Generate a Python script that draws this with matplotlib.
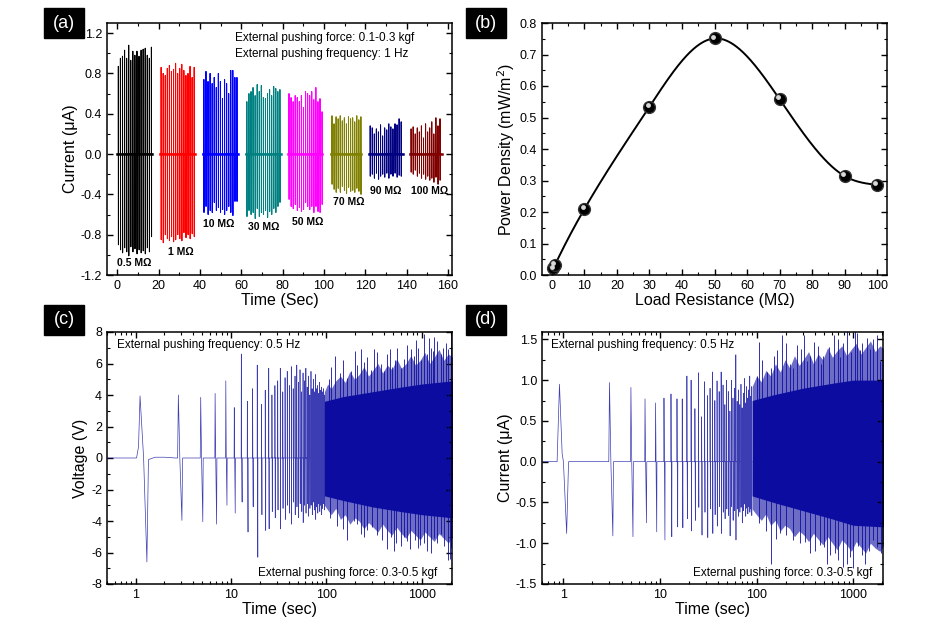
import numpy as np
import matplotlib.pyplot as plt
from matplotlib.patches import Rectangle
from matplotlib.ticker import MultipleLocator, FuncFormatter
from matplotlib import transforms

plt.rcParams['font.family'] = ['Liberation Sans', 'DejaVu Sans']
plt.rcParams['axes.unicode_minus'] = False
plt.rcParams['xtick.direction'] = 'in'
plt.rcParams['ytick.direction'] = 'in'
plt.rcParams['xtick.top'] = True
plt.rcParams['ytick.right'] = True

# ---------------- (a) current for each load, 1 Hz pushing ----------------
a_labels = ['0.5 M\u03a9', '1 M\u03a9', '10 M\u03a9', '30 M\u03a9', '50 M\u03a9', '70 M\u03a9', '90 M\u03a9', '100 M\u03a9']
a_colors = ['#000000', '#ff0000', '#0000ff', '#008080', '#ff00ff', '#808000', '#000080', '#800000']
a_start = [0, 20.7, 41.4, 62.2, 82.6, 103.4, 121.9, 141.7]
a_end = [17, 37.5, 58.4, 79.2, 99.2, 117.9, 138.1, 157]
a_freq = 1.0
a_pos = [
    [0.87, 0.95, 0.97, 1.03, 0.95, 1.08, 0.93, 1.02, 0.98, 1.02, 0.97, 1.03, 1.04, 1.05, 0.98, 0.95, 1.06],
    [0.86, 0.80, 0.78, 0.85, 0.88, 0.82, 0.84, 0.90, 0.80, 0.85, 0.89, 0.83, 0.78, 0.80, 0.87, 0.76, 0.86],
    [0.74, 0.82, 0.72, 0.80, 0.70, 0.76, 0.66, 0.80, 0.72, 0.55, 0.74, 0.70, 0.60, 0.83, 0.83, 0.76, 0.76],
    [0.52, 0.60, 0.62, 0.66, 0.58, 0.69, 0.62, 0.68, 0.56, 0.55, 0.60, 0.64, 0.58, 0.67, 0.65, 0.62, 0.64],
    [0.60, 0.56, 0.52, 0.58, 0.56, 0.52, 0.58, 0.46, 0.62, 0.60, 0.58, 0.62, 0.54, 0.66, 0.52, 0.55, 0.42],
    [0.38, 0.30, 0.37, 0.35, 0.38, 0.33, 0.36, 0.30, 0.37, 0.35, 0.36, 0.32, 0.38, 0.34, 0.37],
    [0.28, 0.26, 0.20, 0.25, 0.22, 0.29, 0.18, 0.26, 0.24, 0.30, 0.27, 0.25, 0.30, 0.29, 0.35, 0.32],
    [0.25, 0.27, 0.20, 0.26, 0.22, 0.28, 0.16, 0.30, 0.22, 0.26, 0.32, 0.20, 0.36, 0.28, 0.35],
]
a_neg = [
    [-0.90, -0.95, -0.98, -0.93, -0.97, -1.01, -0.92, -0.97, -0.94, -0.99, -0.95, -0.98, -0.96, -0.99, -0.93, -0.97, -0.82],
    [-0.85, -0.88, -0.80, -0.84, -0.86, -0.82, -0.87, -0.85, -0.80, -0.84, -0.86, -0.78, -0.83, -0.80, -0.84, -0.79, -0.82],
    [-0.58, -0.52, -0.60, -0.56, -0.58, -0.48, -0.56, -0.53, -0.58, -0.55, -0.60, -0.56, -0.52, -0.58, -0.61, -0.47, -0.47],
    [-0.62, -0.56, -0.60, -0.58, -0.64, -0.54, -0.62, -0.58, -0.60, -0.56, -0.63, -0.57, -0.60, -0.54, -0.58, -0.52, -0.48],
    [-0.45, -0.52, -0.54, -0.50, -0.56, -0.53, -0.57, -0.55, -0.48, -0.52, -0.55, -0.52, -0.58, -0.52, -0.57, -0.58, -0.50],
    [-0.30, -0.35, -0.38, -0.34, -0.38, -0.32, -0.36, -0.39, -0.33, -0.37, -0.36, -0.38, -0.34, -0.37, -0.40],
    [-0.22, -0.20, -0.24, -0.19, -0.25, -0.22, -0.20, -0.23, -0.19, -0.24, -0.20, -0.22, -0.19, -0.23, -0.21, -0.22],
    [-0.18, -0.20, -0.16, -0.22, -0.19, -0.24, -0.20, -0.25, -0.22, -0.26, -0.24, -0.28, -0.23, -0.30, -0.26],
]
a_label_x = [8, 30.5, 49, 71, 92, 112, 130, 151]
a_label_y = [-1.08, -0.97, -0.69, -0.72, -0.67, -0.48, -0.37, -0.37]

# ---------------- (b) power density vs load ----------------
b_load = [0.5, 1, 10, 30, 50, 70, 90, 100]
b_power = [0.021, 0.032, 0.209, 0.534, 0.751, 0.558, 0.314, 0.286]

# ---------------- (c) voltage, 0.5 Hz pushing ----------------
c_first_t = [0.5, 1.02, 1.07, 1.11, 1.21, 1.31, 1.36, 1.6, 2.0, 2.6]
c_first_v = [0, 0, 0.7, 3.94, 0, -6.6, -0.1, 0.05, 0.05, 0]
c_t0, c_period = 0.8, 2.0
c_pos = [4.0, 3.85, 4.1, 4.9, 3.2, 6.6, 3.6, 4.4, 5.9, 3.4, 4.3, 5.7, 4.0, 4.6, 4.9,
         5.7, 4.2, 5.1, 5.5, 4.6, 5.8, 4.4, 5.2, 5.9, 4.8, 5.6, 4.2, 5.4, 4.9, 5.7,
         4.5, 5.2, 4.0, 5.5, 4.4, 5.0, 4.2, 5.3, 4.4, 4.6, 4.1, 4.8, 4.3, 4.5, 4.2, 4.4, 4.0]
c_neg = [-3.96, -4.05, -4.2, -3.0, -3.5, -2.8, -4.7, -3.1, -6.3, -3.6, -4.6, -4.5, -3.4, -3.8, -3.3,
         -4.5, -3.2, -3.9, -3.0, -3.5, -4.2, -2.8, -3.6, -3.1, -3.8, -2.9, -3.4, -4.1, -3.0, -3.5,
         -2.9, -3.7, -3.2, -3.0, -3.6, -2.8, -3.3, -3.9, -3.1, -3.5, -2.9, -3.4, -3.0, -3.6, -3.2, -2.9, -3.3]
c_core_t = [95, 150, 300, 600, 1000, 2100]
c_core_hi = [3.6, 3.9, 4.2, 4.5, 4.7, 4.9]
c_core_lo = [-2.4, -2.7, -3.1, -3.4, -3.6, -3.8]
c_band_t = [95, 103, 112, 125, 140, 157, 176, 197, 220, 247, 276, 309, 346, 388, 434, 486, 545, 610,
            683, 765, 857, 960, 1075, 1204, 1349, 1511, 1692, 1895, 2100]
c_band_hi = [4.2, 4.7, 4.4, 4.9, 5.2, 4.8, 5.5, 5.0, 5.3, 5.8, 5.2, 5.6, 6.0, 5.4, 5.9, 5.6, 6.3, 5.7,
             6.0, 6.5, 5.9, 6.2, 6.7, 6.0, 6.4, 6.9, 6.2, 6.6, 6.4]
c_band_lo = [-3.0, -3.3, -3.6, -3.2, -3.9, -3.6, -4.2, -3.8, -4.0, -4.5, -4.1, -4.4, -4.7, -4.2, -4.6,
             -4.9, -4.4, -4.8, -5.1, -4.6, -4.9, -5.2, -4.7, -5.0, -5.3, -4.8, -5.1, -5.4, -5.0]
c_tip_up_t = [105, 112, 124, 140, 150, 165, 180, 200, 210, 228, 245, 268, 290, 315, 340, 370, 400, 435,
              460, 490, 520, 555, 600, 652, 700, 766, 820, 864, 920, 976, 1058, 1120, 1180, 1244, 1300,
              1349, 1450, 1585, 1650, 1790, 1900, 2020]
c_tip_up_v = [5.0, 5.8, 6.5, 5.4, 6.2, 5.1, 5.5, 6.8, 5.9, 6.9, 6.1, 6.4, 5.6, 6.95, 6.7, 6.0, 5.5, 6.6,
              6.9, 5.8, 6.2, 7.0, 5.7, 6.3, 7.2, 6.9, 6.5, 7.5, 7.0, 6.2, 7.9, 6.6, 7.6, 7.0, 6.8,
              7.7, 7.4, 6.6, 7.0, 7.3, 6.9, 7.9]
c_tip_dn_t = [110, 130, 150, 165, 194, 210, 228, 250, 268, 300, 341, 380, 435, 470, 511, 540, 601, 650,
              707, 750, 850, 901, 950, 1058, 1120, 1250, 1349, 1450, 1585, 1700, 1865, 1950, 2020]
c_tip_dn_v = [-3.8, -4.3, -4.5, -5.2, -4.0, -4.2, -4.8, -5.0, -4.6, -4.4, -4.9, -5.2, -5.8, -5.0, -5.9,
              -5.4, -5.6, -5.0, -5.3, -5.8, -5.2, -5.7, -5.5, -5.4, -5.9, -6.0, -5.1, -5.4, -4.8,
              -5.6, -6.5, -6.4, -5.7]

# ---------------- (d) current, 0.5 Hz pushing ----------------
d_first_t = [0.6, 0.86, 0.91, 0.97, 1.0, 1.08, 1.13, 1.5, 2.8]
d_first_v = [0, 0, 0.95, 0.1, 0.0, -0.88, 0.0, 0.0, 0]
d_t0, d_period = 1.0, 2.0
d_pos = [0.97, 0.91, 0.77, 0.72, 0.78, 0.83, 0.77, 0.77, 1.05, 1.00, 0.65, 1.09, 0.55, 0.98, 0.81,
         0.90, 1.10, 0.75, 0.99, 0.86, 1.10, 0.94, 0.70, 1.00, 0.86, 0.62, 1.00, 0.78, 0.90, 1.31,
         0.74, 0.88, 0.70, 0.95, 0.66, 0.84, 1.02, 0.72, 0.92, 0.78, 0.88, 1.05, 0.80, 0.92]
d_neg = [-0.91, -0.92, -0.75, -0.86, -0.96, -0.92, -0.80, -0.81, -0.70, -0.85, -0.72, -0.56, -0.90, -0.62, -0.93,
         -0.58, -0.88, -0.65, -0.79, -0.55, -0.88, -0.62, -0.70, -0.58, -0.66, -0.91, -0.55, -0.72, -0.60, -0.96,
         -0.58, -0.67, -0.62, -0.56, -0.75, -0.60, -0.52, -0.67, -0.57, -0.64, -0.55, -0.62, -0.58, -0.66]
d_core_t = [90, 150, 300, 600, 1000, 2100]
d_core_hi = [0.75, 0.82, 0.90, 0.96, 1.0, 1.0]
d_core_lo = [-0.42, -0.50, -0.60, -0.70, -0.78, -0.80]
d_band_t = [90, 100, 112, 125, 140, 157, 176, 197, 220, 247, 276, 309, 346, 388, 434, 486, 545, 610,
            683, 765, 857, 960, 1075, 1204, 1349, 1511, 1692, 1895, 2100]
d_band_hi = [0.92, 1.05, 0.98, 1.12, 1.05, 1.2, 1.1, 1.25, 1.15, 1.3, 1.18, 1.26, 1.35, 1.2, 1.32, 1.25,
             1.4, 1.28, 1.36, 1.42, 1.3, 1.38, 1.45, 1.32, 1.4, 1.48, 1.35, 1.42, 1.38]
d_band_lo = [-0.58, -0.65, -0.72, -0.64, -0.78, -0.72, -0.85, -0.78, -0.82, -0.92, -0.85, -0.9, -0.98,
             -0.88, -0.95, -1.02, -0.92, -1.0, -1.08, -0.96, -1.02, -1.1, -0.98, -1.05, -1.12, -1.0,
             -1.06, -1.1, -1.02]
d_tip_up_t = [100, 106, 115, 129, 140, 150, 163, 184, 200, 224, 240, 263, 290, 310, 333, 360, 390, 430,
              460, 492, 560, 627, 690, 735, 780, 861, 950, 1047, 1100, 1180, 1250, 1380, 1500, 1620,
              1750, 1900]
d_tip_up_v = [1.05, 1.47, 1.25, 1.10, 1.15, 1.30, 1.37, 1.55, 1.45, 1.20, 1.15, 1.43, 1.38, 1.55, 1.24,
              1.30, 1.47, 1.42, 1.20, 1.30, 1.40, 1.55, 1.50, 1.28, 1.45, 1.6, 1.35, 1.6, 1.58, 1.37,
              1.45, 1.52, 1.38, 1.5, 1.55, 1.24]
d_tip_dn_t = [105, 125, 142, 160, 173, 200, 241, 280, 320, 360, 400, 457, 500, 537, 580, 648, 700,
              795, 870, 930, 1000, 1135, 1250, 1330, 1450, 1620, 1780, 1930]
d_tip_dn_v = [-0.75, -0.85, -1.25, -0.95, -0.88, -0.90, -0.96, -1.0, -0.98, -1.12, -1.1, -1.02, -1.05,
              -1.25, -1.15, -1.12, -1.2, -1.29, -1.25, -1.17, -1.3, -1.04, -1.15, -1.25, -1.1, -0.96,
              -1.05, -1.12]


def spike_line(times, pos, neg, x0, x1, lead_t=(), lead_v=()):
    xs, ys = list(lead_t) or [x0], list(lead_v) or [0]
    for t, p, n in zip(times, pos, neg):
        xs += [t - 0.05, t, t + 0.1, t + 0.25, t + 0.3]
        ys += [0, p, 0, n, 0]
    xs.append(x1)
    ys.append(0)
    return xs, ys


def natural_spline(x, y, xs):
    x, y = np.asarray(x, float), np.asarray(y, float)
    n = len(x)
    h = np.diff(x)
    A = np.zeros((n, n))
    r = np.zeros(n)
    A[0, 0] = A[-1, -1] = 1
    for i in range(1, n - 1):
        A[i, i - 1], A[i, i], A[i, i + 1] = h[i - 1], 2 * (h[i - 1] + h[i]), h[i]
        r[i] = 6 * ((y[i + 1] - y[i]) / h[i] - (y[i] - y[i - 1]) / h[i - 1])
    M = np.linalg.solve(A, r)
    i = np.clip(np.searchsorted(x, xs) - 1, 0, n - 2)
    hi = h[i]
    a, b = x[i + 1] - xs, xs - x[i]
    return (M[i] * a**3 + M[i + 1] * b**3) / (6 * hi) + (y[i] / hi - M[i] * hi / 6) * a + (y[i + 1] / hi - M[i + 1] * hi / 6) * b


def style(ax):
    for s in ax.spines.values():
        s.set_linewidth(1.1)
    ax.tick_params(which='major', length=4, width=1, labelsize=9)
    ax.tick_params(which='minor', length=2, width=0.8)


fig = plt.figure(figsize=(9.3, 6.37), dpi=100)
W, H = 930, 637


def px_axes(l, t, r, b):
    return fig.add_axes([l / W, 1 - b / H, (r - l) / W, (b - t) / H])


axa = px_axes(107, 23, 452, 275)
axb = px_axes(542, 23, 887, 275)
axc = px_axes(107, 332, 452, 584)
axd = px_axes(542, 332, 883, 584)

# (a)
for k in range(len(a_pos)):
    xs, ys = [a_start[k]], [0]
    for i, (p, n) in enumerate(zip(a_pos[k], a_neg[k])):
        t = a_start[k] + 0.5 + i / a_freq
        xs += [t, t, t + 0.05, t + 0.05]
        ys += [0, p, n, 0]
    xs.append(a_end[k])
    ys.append(0)
    axa.plot(xs, ys, color=a_colors[k], lw=0.75)
    axa.plot([a_start[k], a_end[k]], [0, 0], color=a_colors[k], lw=1.8)
    axa.text(a_label_x[k], a_label_y[k], a_labels[k], fontsize=7.5, fontweight='bold',
             ha='center', va='center')
axa.set_xlim(-5, 162)
axa.set_ylim(-1.2, 1.3)
axa.xaxis.set_major_locator(MultipleLocator(20))
axa.xaxis.set_minor_locator(MultipleLocator(10))
axa.yaxis.set_major_locator(MultipleLocator(0.4))
axa.yaxis.set_minor_locator(MultipleLocator(0.2))
axa.yaxis.set_major_formatter(FuncFormatter(lambda v, p: f'{v:.1f}'))
axa.set_xlabel('Time (Sec)', fontsize=11.5, labelpad=1)
axa.set_ylabel('Current (\u03bcA)', fontsize=11.5, labelpad=2)
axa.text(0.371, 0.94, 'External pushing force: 0.1-0.3 kgf', transform=axa.transAxes,
         fontsize=8.5, va='center')
axa.text(0.371, 0.877, 'External pushing frequency: 1 Hz', transform=axa.transAxes,
         fontsize=8.5, va='center')
style(axa)

# (b)
xs = np.linspace(b_load[0], b_load[-1], 400)
axb.plot(xs, natural_spline(b_load, b_power, xs), color='black', lw=1.4)
axb.plot(b_load, b_power, 'o', ms=8.5, color='black', mec='#333333')
hl = transforms.offset_copy(axb.transData, fig=fig, x=-1.3, y=1.3, units='points')
axb.plot(b_load, b_power, 'o', ms=3.5, color='#d8d8d8', mew=0, transform=hl)
axb.set_xlim(-3, 103)
axb.set_ylim(0, 0.8)
axb.xaxis.set_major_locator(MultipleLocator(10))
axb.xaxis.set_minor_locator(MultipleLocator(5))
axb.yaxis.set_major_locator(MultipleLocator(0.1))
axb.yaxis.set_minor_locator(MultipleLocator(0.05))
axb.set_xlabel('Load Resistance (M\u03a9)', fontsize=11.5, labelpad=1)
axb.set_ylabel('Power Density (mW/m$^2$)', fontsize=11.5, labelpad=2)
style(axb)

# (c) and (d)
blue = '#0c0ca0'
for ax, ft, fv, t0, per, pos, neg, ct, chi, clo, bt, bhi, blo, ut, uv, dt, dv, xl in [
    (axc, c_first_t, c_first_v, c_t0, c_period, c_pos, c_neg, c_core_t, c_core_hi, c_core_lo,
     c_band_t, c_band_hi, c_band_lo, c_tip_up_t, c_tip_up_v, c_tip_dn_t, c_tip_dn_v, (0.5, 2070)),
    (axd, d_first_t, d_first_v, d_t0, d_period, d_pos, d_neg, d_core_t, d_core_hi, d_core_lo,
     d_band_t, d_band_hi, d_band_lo, d_tip_up_t, d_tip_up_v, d_tip_dn_t, d_tip_dn_v, (0.6, 2040)),
]:
    times = [t0 + per * (k + 1) for k in range(len(pos))]
    xs, ys = spike_line(times, pos, neg, xl[0], ct[0], ft, fv)
    ax.plot(xs, ys, color=blue, lw=0.5, alpha=0.8)
    ax.fill_between(bt, blo, bhi, color=blue, lw=0, alpha=0.6)
    ax.fill_between(ct, clo, chi, color=blue, lw=0)
    ax.vlines(ut, 0, uv, color=blue, lw=0.7, alpha=0.85)
    ax.vlines(dt, dv, 0, color=blue, lw=0.7, alpha=0.85)
    ax.set_xscale('log')
    ax.set_xlim(*xl)
    ax.xaxis.set_major_formatter(FuncFormatter(lambda v, p: f'{v:g}'))
    ax.set_xlabel('Time (sec)', fontsize=11.5, labelpad=1)
    style(ax)

axc.set_ylim(-8, 8)
axc.yaxis.set_major_locator(MultipleLocator(2))
axc.yaxis.set_minor_locator(MultipleLocator(1))
axc.set_ylabel('Voltage (V)', fontsize=11.5, labelpad=2)
axd.set_ylim(-1.5, 1.59)
axd.yaxis.set_major_locator(MultipleLocator(0.5))
axd.yaxis.set_minor_locator(MultipleLocator(0.25))
axd.yaxis.set_major_formatter(FuncFormatter(lambda v, p: f'{v:.1f}'))
axd.set_ylabel('Current (\u03bcA)', fontsize=11.5, labelpad=2)
for ax, xl, xr in [(axc, 0.03, 0.957), (axd, 0.026, 0.968)]:
    ax.text(xl, 0.948, 'External pushing frequency: 0.5 Hz', transform=ax.transAxes,
            fontsize=8.5, va='center')
    ax.text(xr, 0.044, 'External pushing force: 0.3-0.5 kgf', transform=ax.transAxes,
            fontsize=8.5, va='center', ha='right')

# panel tags
for lab, (x, y) in zip(['(a)', '(b)', '(c)', '(d)'], [(44, 8), (466, 8), (44, 305), (466, 305)]):
    fig.patches.append(Rectangle((x / W, 1 - (y + 30) / H), 40 / W, 30 / H,
                                 transform=fig.transFigure, color='black'))
    fig.text((x + 20) / W, 1 - (y + 15) / H, lab, color='white', fontsize=13,
             ha='center', va='center')

fig.savefig('out.png', dpi=100)
